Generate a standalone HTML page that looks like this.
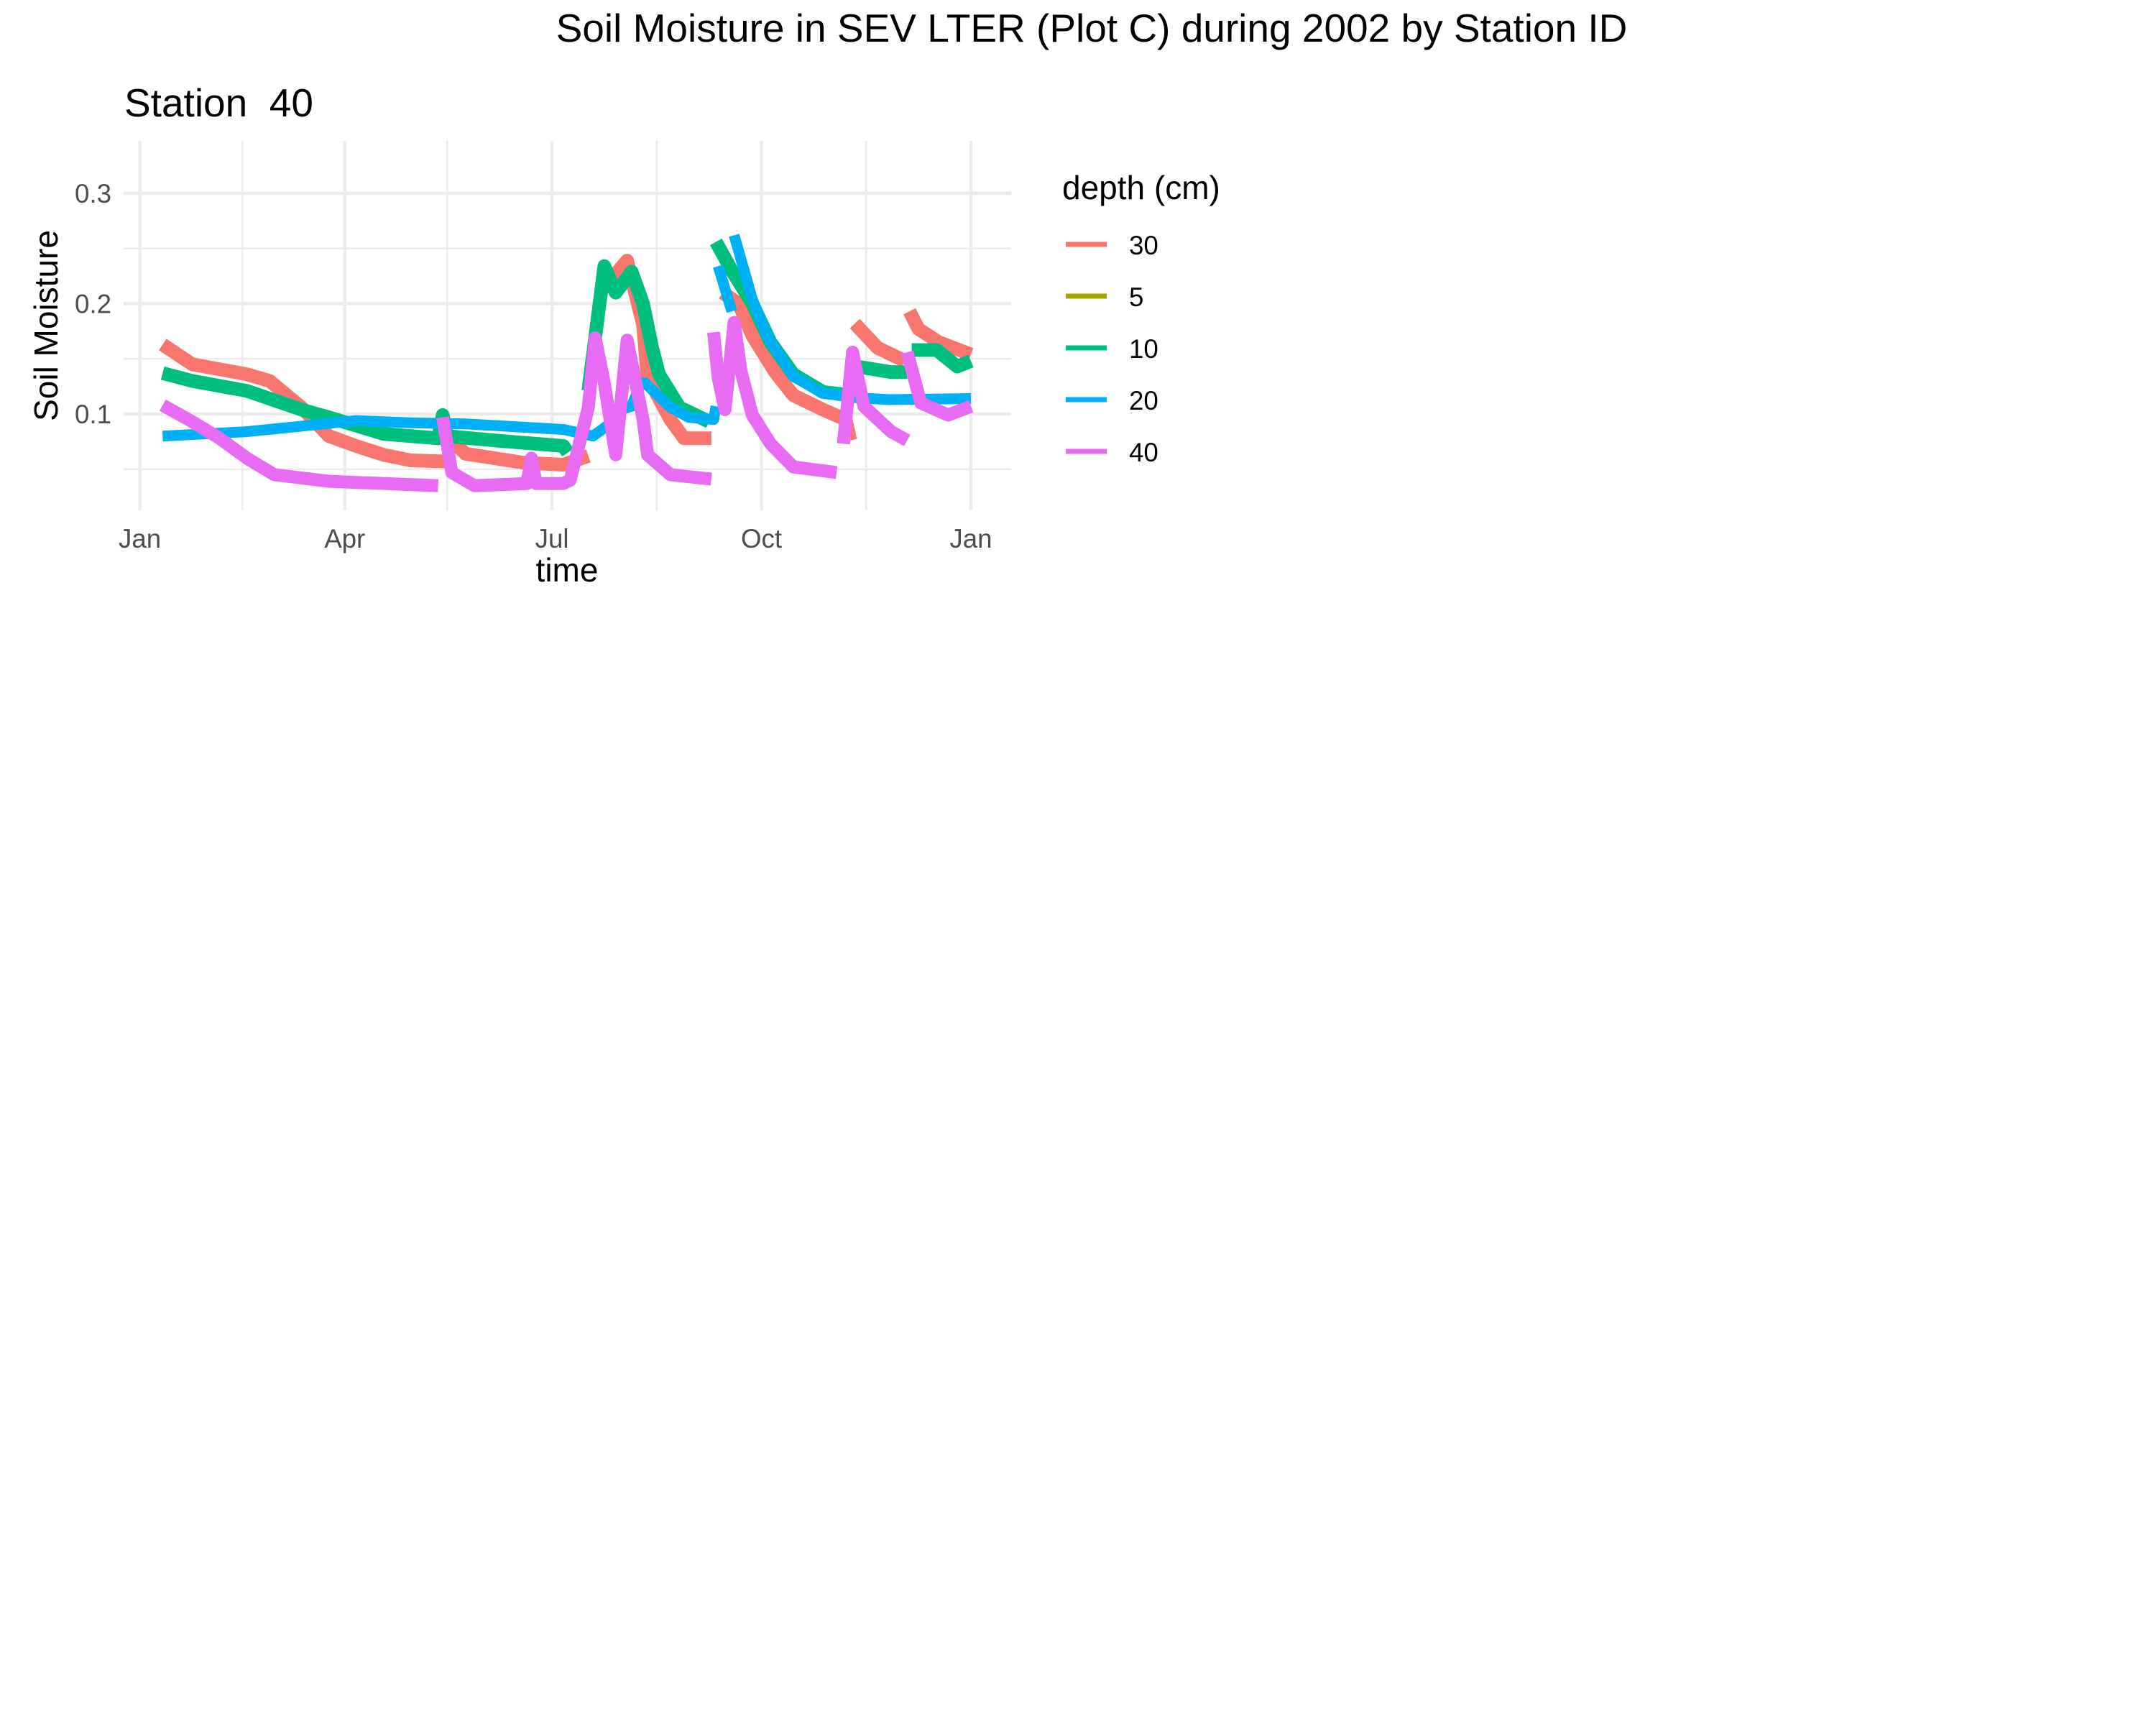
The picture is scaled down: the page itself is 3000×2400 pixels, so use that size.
<!DOCTYPE html>
<html><head><meta charset="utf-8"><style>
html,body{margin:0;padding:0;background:#fff;}
svg{display:block;font-family:"Liberation Sans",Arial,sans-serif;}
</style></head><body>
<svg id="chart" width="3000" height="2400" viewBox="0 0 3000 2400" xmlns="http://www.w3.org/2000/svg">
<rect width="3000" height="2400" fill="#fff"/>
<text x="1519" y="58" font-size="55" text-anchor="middle" fill="#000">Soil Moisture in SEV LTER (Plot C) during 2002 by Station ID</text>
<text x="173" y="162" font-size="55" fill="#000" style="white-space:pre">Station&#160; 40</text>
<g id="grid"></g>
<g id="series"></g>
<g id="axes"></g>
<text x="789" y="809" font-size="46" text-anchor="middle" fill="#000">time</text>
<text transform="translate(80,453) rotate(-90)" font-size="46" text-anchor="middle" fill="#000">Soil Moisture</text>
<g id="legend">
<text x="1478" y="277" font-size="46" fill="#000">depth (cm)</text>
</g>
</svg>
<script>
const monthLabels = ["Jan","Apr","Jul","Oct","Jan"];
const monthDays = [0,90,181,273,365];
const minorDays = [45,135,227,319];
const yTicks = [0.1,0.2,0.3];
const yMinor = [0.05,0.15,0.25];
const depthLabels = ["30","5","10","20","40"];
const depthColors = ["#F8766D","#A3A500","#00BF7D","#00B0F6","#E76BF3"];

// days / values, null breaks segments
const d30 = [10,23,47,57,71,83,95,107,119,134,null,136,143,168,186,197,null,202,214,221,223,233,239,251,null,256,263,269,279,287,300,310,312,null,314,324,336,null,338,342,351,365];
const v30 = [0.163,0.145,0.136,0.130,0.106,0.080,0.071,0.063,0.058,0.057,null,0.078,0.064,0.056,0.054,0.062,null,0.21,0.239,0.181,0.133,0.095,0.078,0.078,null,0.21,0.20,0.171,0.138,0.117,0.104,0.095,0.076,null,0.182,0.16,0.148,null,0.193,0.177,0.165,0.154];
const d5 = [];
const v5 = [];
const d10 = [10,23,47,71,83,107,131,133,135,156,186,188,null,197,204,209,216,221,225,228,237,250,null,253,260,269,277,287,300,312,null,315,330,337,null,339,350,359,365];
const v10 = [0.137,0.130,0.121,0.104,0.097,0.082,0.078,0.099,0.080,0.076,0.071,0.065,null,0.121,0.234,0.21,0.229,0.20,0.16,0.136,0.106,0.093,null,0.256,0.23,0.20,0.165,0.136,0.12,0.117,null,0.143,0.138,0.138,null,0.158,0.158,0.143,0.148];
const d20 = [10,47,71,95,119,143,186,199,205,211,216,220,222,233,241,252,253,null,254,260,null,261,269,276,287,300,313,329,365];
const v20 = [0.080,0.084,0.089,0.094,0.092,0.091,0.086,0.080,0.089,0.104,0.107,0.128,0.128,0.106,0.097,0.095,0.107,null,0.234,0.193,null,0.262,0.204,0.169,0.134,0.119,0.115,0.113,0.114];
const d40 = [10,23,35,47,59,83,131,null,133,137,147,170,172,174,186,189,197,200,204,209,214,216,221,223,233,251,null,252,254,257,261,264,269,277,287,306,null,309,313,318,330,337,null,337,343,355,365];
const v40 = [0.108,0.093,0.078,0.060,0.045,0.039,0.035,null,0.097,0.047,0.035,0.037,0.06,0.037,0.037,0.04,0.106,0.169,0.128,0.063,0.167,0.147,0.095,0.063,0.045,0.041,null,0.174,0.133,0.104,0.183,0.139,0.099,0.073,0.052,0.047,null,0.073,0.156,0.107,0.084,0.076,null,0.156,0.11,0.099,0.107];

const seriesDays = [d30,d5,d10,d20,d40];
const seriesVals = [v30,v5,v10,v20,v40];
const seriesWidth = [19,19,19,15,18];

const NS = "http://www.w3.org/2000/svg";
const X0 = 194.6, X1 = 1351, PL = 172, PR = 1407, PT = 196, PB = 710;
function xs(d){ return X0 + d*(X1-X0)/365; }
function ys(v){ return 576 - (v-0.1)*1535; }
function mk(tag, attrs, parent){
  const e = document.createElementNS(NS, tag);
  for (const k in attrs) e.setAttribute(k, attrs[k]);
  parent.appendChild(e); return e;
}
const grid = document.getElementById('grid');
yMinor.forEach(v=>{
  const l = mk('line',{x1:PL,x2:PR,y1:ys(v),y2:ys(v),stroke:'#EBEBEB','stroke-width':2.5},grid);
  
  
});
minorDays.forEach(d=>{
  const l = mk('line',{x1:xs(d),x2:xs(d),y1:PT,y2:PB,stroke:'#EBEBEB','stroke-width':2.5},grid);
  
  
});
yTicks.forEach(v=>{
  const l = mk('line',{x1:PL,x2:PR,y1:ys(v),y2:ys(v),stroke:'#EBEBEB','stroke-width':4.5},grid);
  
  
});
monthDays.forEach(d=>{
  const l = mk('line',{x1:xs(d),x2:xs(d),y1:PT,y2:PB,stroke:'#EBEBEB','stroke-width':4.5},grid);
  
  
});
const axes = document.getElementById('axes');
yTicks.forEach(v=>{
  const t = mk('text',{x:155,y:ys(v)+13,'font-size':36.7,'text-anchor':'end',fill:'#4D4D4D'},axes);
  t.textContent = v.toFixed(1);
  
  
});
monthDays.forEach((d,i)=>{
  const t = mk('text',{x:xs(d),y:762,'font-size':36.7,'text-anchor':'middle',fill:'#4D4D4D'},axes);
  t.textContent = monthLabels[i];
  
  
});
const sg = document.getElementById('series');
seriesDays.forEach((days,si)=>{
  const vals = seriesVals[si];
  let segs = [], cur = [];
  days.forEach((d,i)=>{
    if (d===null || vals[i]===null){ if(cur.length) segs.push(cur); cur=[]; }
    else cur.push(xs(d).toFixed(1)+','+ys(vals[i]).toFixed(1));
  });
  if (cur.length) segs.push(cur);
  segs.forEach(s=>{
    const p = mk('polyline',{points:s.join(' '),fill:'none',stroke:depthColors[si],'stroke-width':seriesWidth[si],'stroke-linejoin':'round','stroke-linecap':'butt'},sg);
    
    
  });
});
const lg = document.getElementById('legend');
depthLabels.forEach((lab,i)=>{
  const y = 340 + i*72;
  const k = mk('rect',{x:1483,y:y-3.5,width:57,height:7,fill:depthColors[i]},lg);
  
  
  const t = mk('text',{x:1571,y:y+14,'font-size':36.7,fill:'#000'},lg);
  t.textContent = lab;
  
  
});
</script>
</body></html>
